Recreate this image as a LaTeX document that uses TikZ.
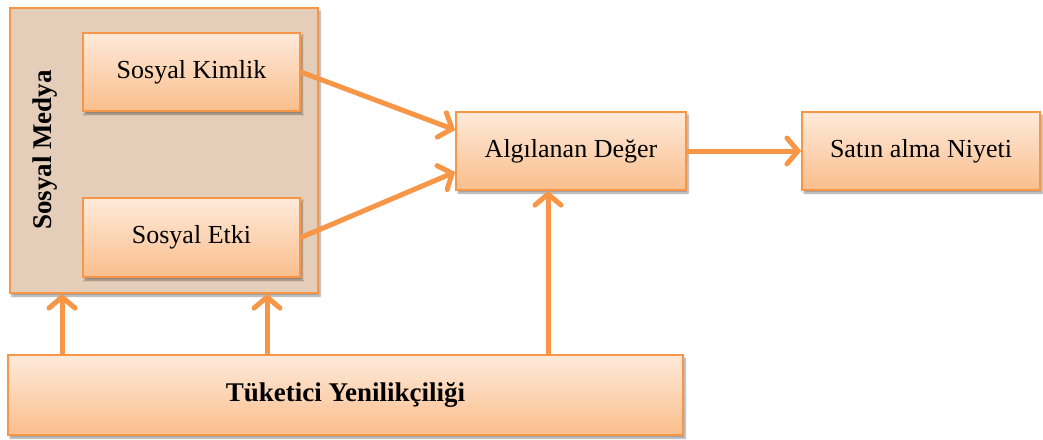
\documentclass[tikz,border=0pt]{standalone}
\usepackage{fontspec}
\setmainfont{Liberation Serif}
\usetikzlibrary{arrows.meta,shadows.blur}
\definecolor{edgeorange}{RGB}{247,150,70}
\definecolor{boxtop}{RGB}{254,234,218}
\definecolor{boxbottom}{RGB}{250,190,140}
\definecolor{groupfill}{RGB}{228,205,185}
\tikzset{
  conceptbox/.style={draw=edgeorange, line width=1.6pt, top color=boxtop, bottom color=boxbottom,
    blur shadow={shadow xshift=2pt, shadow yshift=-3pt, shadow blur steps=6, shadow opacity=40},
    inner sep=0pt, font=\fontsize{26}{30}\selectfont},
  groupbox/.style={draw=edgeorange, line width=1.6pt, fill=groupfill,
    blur shadow={shadow xshift=2pt, shadow yshift=-3pt, shadow blur steps=6, shadow opacity=40},
    inner sep=0pt},
  flow/.style={draw=edgeorange, line width=5pt,
    -{Straight Barb[length=11pt,width=26pt,line cap=round,line width=5pt]}}
}
\begin{document}
\begin{tikzpicture}[x=1pt,y=-1pt]
\useasboundingbox (0,0) rectangle (1043,439);

% social media group
\node[groupbox, minimum width=308pt, minimum height=285pt] (med) at (164,150.5) {};
\node[rotate=90, font=\fontsize{27}{30}\selectfont\bfseries] (medlabel) at (45,150) {Sosyal Medya};

% concept boxes
\node[conceptbox, minimum width=217pt, minimum height=78pt] (kim) at (191.5,72) {Sosyal Kimlik};
\node[conceptbox, minimum width=217pt, minimum height=79pt] (etk) at (191.5,237.5) {Sosyal Etki};
\node[conceptbox, minimum width=230pt, minimum height=78pt] (alg) at (571,151) {Algılanan Değer};
\node[conceptbox, minimum width=238pt, minimum height=78pt] (sat) at (921,151) {Satın alma Niyeti};
\node[conceptbox, minimum width=675pt, minimum height=80pt, font=\fontsize{27}{30}\selectfont\bfseries] (tuk) at (345.5,395) {Tüketici Yenilikçiliği};

% arrow columns
\coordinate (c1) at (62,0);
\coordinate (c2) at (267,0);
\coordinate (c3) at (548,0);

% connectors
\draw[flow] (kim.east) -- ([yshift=21pt]alg.west);
\draw[flow] (etk.east) -- ([yshift=-21pt]alg.west);
\draw[flow] (alg.east) -- (sat.west);
\draw[flow] (c1 |- tuk.north) -- (c1 |- med.south);
\draw[flow] (c2 |- tuk.north) -- (c2 |- med.south);
\draw[flow] (c3 |- tuk.north) -- (c3 |- alg.south);
\end{tikzpicture}
\end{document}
